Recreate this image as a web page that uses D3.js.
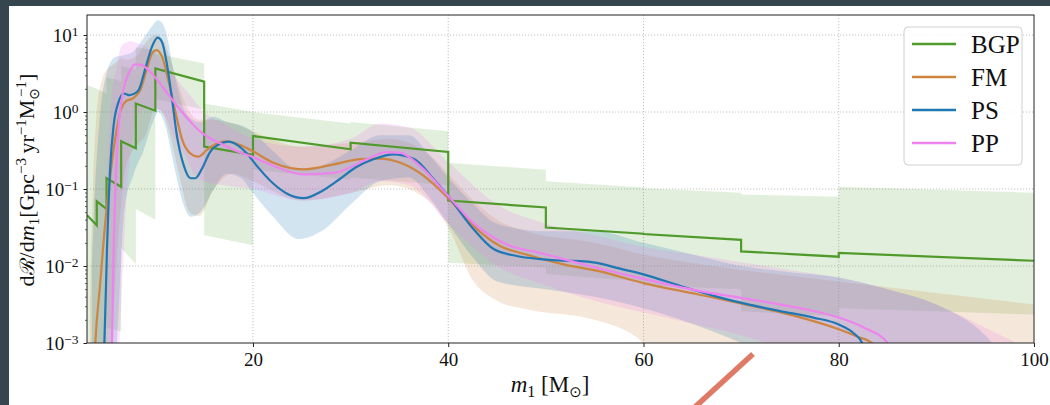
<!DOCTYPE html>
<html>
<head>
<meta charset="utf-8">
<script src="https://cdn.jsdelivr.net/npm/d3@7"></script>
<style>
  html, body { margin: 0; padding: 0; background: #36464f; }
  svg { display: block; }
  text { font-family: "Liberation Serif", "DejaVu Serif", serif; fill: #111; }
</style>
</head>
<body>
<svg id="chart" width="1050" height="405"></svg>
<script>
// ---- Primary mass distribution: median rate densities (Gpc^-3 yr^-1 Msun^-1) ----
const psMass = [4.6, 4.78, 5.05, 5.39, 5.73, 6.24, 6.76, 7.3, 7.8, 8.29, 8.98, 9.66, 10.24, 10.68, 11.2, 11.7, 12.2, 12.9, 13.6, 14.1, 14.8, 15.6, 16.7, 17.5, 18.4, 19.4, 20.4, 22.1, 23.5, 25.2, 27, 28.9, 30.5, 32.4, 34.4, 36.5, 38.5, 40, 42.6, 44.65, 47, 49.4, 51.8, 53.5, 55.2, 57.5, 60, 63.8, 67.2, 70.6, 74, 77.4, 80, 81.5, 82.4, 83];
const psRate = [0.0004, 0.001, 0.017, 0.204, 0.676, 1.36, 1.74, 1.66, 1.72, 1.93, 3.69, 7.08, 9.23, 8.13, 4.07, 1.51, 0.50, 0.204, 0.138, 0.138, 0.186, 0.302, 0.389, 0.412, 0.372, 0.288, 0.20, 0.117, 0.087, 0.076, 0.093, 0.135, 0.19, 0.245, 0.282, 0.245, 0.135, 0.081, 0.030, 0.0166, 0.0135, 0.0123, 0.0117, 0.0116, 0.011, 0.0093, 0.0078, 0.0055, 0.0041, 0.0032, 0.0026, 0.00214, 0.00174, 0.00135, 0.001, 0.0005];

const fmMass = [3.7, 3.85, 4.37, 4.88, 5.39, 5.9, 6.42, 6.93, 7.78, 8.46, 9.15, 9.66, 10.1, 10.68, 11.37, 12.05, 12.7, 13.6, 14.4, 15.3, 16.3, 17.3, 18.7, 20, 22.1, 25.2, 28.3, 31, 33, 35.1, 37.5, 40, 42.6, 45.3, 48, 51.8, 55.2, 60, 65.5, 70.3, 75, 80, 82, 83.4, 84];
const fmRate = [0.0004, 0.001, 0.0063, 0.038, 0.151, 0.457, 1.01, 1.36, 1.53, 1.93, 3.69, 5.75, 6.38, 5.25, 2.45, 1.01, 0.457, 0.288, 0.263, 0.324, 0.389, 0.417, 0.372, 0.309, 0.219, 0.18, 0.209, 0.245, 0.248, 0.219, 0.148, 0.076, 0.033, 0.0182, 0.0141, 0.0105, 0.0087, 0.006, 0.0043, 0.0032, 0.00234, 0.00151, 0.0012, 0.001, 0.0005];

const ppMass = [5.4, 5.56, 5.73, 6.0, 6.35, 6.76, 7.27, 7.95, 8.63, 9.49, 10.5, 11.5, 12.56, 13.6, 14.6, 15.6, 16.7, 18, 20, 22.1, 25.2, 28.3, 31.7, 33.7, 35.1, 37.1, 40, 42.6, 46, 49.4, 51.8, 55.2, 60, 65.5, 70.3, 75, 77.4, 80, 82.6, 85, 86];
const ppRate = [0.0004, 0.001, 0.017, 0.204, 0.912, 2.04, 3.16, 4.17, 4.07, 3.31, 2.34, 1.58, 1.06, 0.748, 0.556, 0.457, 0.389, 0.324, 0.26, 0.20, 0.155, 0.162, 0.245, 0.302, 0.295, 0.20, 0.081, 0.036, 0.019, 0.0148, 0.0123, 0.0095, 0.0068, 0.0048, 0.0038, 0.003, 0.0026, 0.00214, 0.00158, 0.001, 0.0005];

// ---- 90% credible bands ----
const psBandMass = [3.5, 3.7, 4.4, 5.05, 5.7, 6.1, 6.8, 7.8, 8.8, 9.7, 10.3, 11.0, 11.9, 12.9, 13.6, 14.6, 16, 17.3, 18.7, 20, 22, 24.7, 27, 30, 33, 36, 38, 40, 42.6, 45, 50, 55, 60, 65, 70, 75, 80, 85, 90, 95, 97];
const psHigh = [0.01, 0.0457, 1.1, 3.31, 5.0, 5.25, 5.5, 6.17, 9.12, 13.2, 15.5, 12.0, 3.31, 1.12, 0.832, 0.741, 0.871, 0.741, 0.676, 0.55, 0.316, 0.178, 0.2, 0.316, 0.5, 0.5, 0.282, 0.141, 0.063, 0.0355, 0.0282, 0.0282, 0.02, 0.0141, 0.01, 0.0083, 0.0071, 0.005, 0.00316, 0.00126, 0.00063];
const psLow = [3.2e-4, 3.2e-4, 3.2e-4, 3.2e-4, 3.2e-4, 1.26e-3, 0.05, 0.158, 0.316, 0.708, 1.0, 0.676, 0.204, 0.0617, 0.0437, 0.05, 0.1, 0.158, 0.141, 0.089, 0.0447, 0.0224, 0.0282, 0.063, 0.126, 0.141, 0.0794, 0.0355, 0.0126, 0.0063, 0.005, 0.00398, 0.00282, 0.00178, 0.001, 0.0005, 3.2e-4, 3.2e-4, 3.2e-4, 3.2e-4, 3.2e-4];

const fmBandMass = [3.3, 3.6, 4, 4.5, 5, 5.5, 6, 6.5, 7, 8, 9, 10, 10.7, 11.5, 12.5, 13.5, 14.5, 16, 18, 20, 25, 30, 34, 38, 40, 42.6, 45, 48, 55, 60, 62, 70, 80, 90, 100];
const fmHigh = [0.00316, 0.1, 1.0, 2.51, 3.55, 3.98, 4.47, 5.0, 4.79, 5.25, 7.94, 10, 8.91, 5.0, 2.0, 1.0, 0.794, 0.794, 0.708, 0.562, 0.355, 0.398, 0.447, 0.282, 0.158, 0.0708, 0.0398, 0.0282, 0.02, 0.0141, 0.0126, 0.0089, 0.0063, 0.00447, 0.00316];
const fmLow = [3.2e-4, 3.2e-4, 3.2e-4, 3.2e-4, 3.2e-4, 0.001, 0.01, 0.063, 0.2, 0.355, 0.5, 1.12, 1.0, 0.5, 0.141, 0.05, 0.0447, 0.1, 0.158, 0.126, 0.0708, 0.089, 0.112, 0.0708, 0.0316, 0.0063, 0.00355, 0.00275, 0.002, 0.001, 3.2e-4, 3.2e-4, 3.2e-4, 3.2e-4, 3.2e-4];

const ppBandMass = [5.0, 5.3, 5.6, 6.0, 6.5, 7, 7.5, 8, 9, 10, 11, 12, 13, 14, 15, 17, 20, 25, 30, 33, 36, 40, 45, 50, 55, 60, 65, 70, 75, 80, 85, 90, 95, 99];
const ppHigh = [0.1, 0.631, 2.0, 3.55, 7.08, 7.94, 8.3, 7.94, 7.08, 5.62, 3.98, 2.82, 2.0, 1.41, 1.0, 0.708, 0.447, 0.355, 0.447, 0.708, 0.631, 0.224, 0.063, 0.0355, 0.0251, 0.0178, 0.0141, 0.0112, 0.0089, 0.0071, 0.005, 0.00316, 0.00158, 0.00089];
const ppLow = [3.2e-4, 3.2e-4, 3.2e-4, 3.2e-4, 0.00316, 0.063, 0.316, 0.794, 1.12, 1.12, 0.891, 0.447, 0.282, 0.158, 0.126, 0.112, 0.1, 0.0708, 0.089, 0.126, 0.112, 0.0355, 0.01, 0.0056, 0.00355, 0.0025, 0.00178, 0.00126, 0.00079, 0.0005, 3.2e-4, 3.2e-4, 3.2e-4, 3.2e-4];

// ---- Binned Gaussian process: per-bin values at the left and right bin edges ----
const bgpEdges = [3, 4, 5, 6.5, 8, 10, 15, 20, 30, 40, 50, 60, 70, 80, 100];
const bgpStart = [0.0457, 0.0692, 0.138, 0.417, 1.29, 3.69, 0.355, 0.488, 0.40, 0.0708, 0.0316, 0.026, 0.0155, 0.0148];
const bgpEnd = [0.0339, 0.055, 0.107, 0.339, 1.04, 2.48, 0.277, 0.328, 0.303, 0.0575, 0.0263, 0.0219, 0.0132, 0.0117];
const bgpHighStart = [2.24, 2.0, 2.82, 3.98, 6.92, 5.75, 1.29, 1.0, 0.741, 0.219, 0.126, 0.102, 0.0851, 0.107];
const bgpHighEnd = [2.0, 1.74, 2.51, 3.55, 6.31, 4.27, 1.0, 0.708, 0.562, 0.178, 0.105, 0.0891, 0.0794, 0.0891];
const bgpLowStart = [3.2e-4, 3.2e-4, 1.58e-3, 0.017, 0.055, 1.48, 0.0251, 0.178, 0.141, 0.011, 0.0079, 0.0056, 0.00257, 0.00282];
const bgpLowEnd = [3.2e-4, 3.2e-4, 1.41e-3, 0.0107, 0.0398, 1.07, 0.0186, 0.132, 0.112, 0.00955, 0.0063, 0.005, 0.00224, 0.00234];

// ---- Axis ticks and legend ----
const xTicks = [20, 40, 60, 80, 100];
const yTicks = [1e-3, 1e-2, 1e-1, 1, 10];
const yTickExponents = ["\u22123", "\u22122", "\u22121", "0", "1"];
const legendLabels = ["BGP", "FM", "PS", "PP"];

const colors = { BGP: "#4f9a2b", FM: "#cd853f", PS: "#1f77b4", PP: "#ee82ee" };

// ---- Layout ----
const W = 1050, H = 405;
const L = 87, R = 1034, T = 15, B = 343;
const svg = d3.select("#chart");

svg.append("rect").attr("width", W).attr("height", H).attr("fill", "#36464f");
svg.append("rect").attr("x", 9).attr("y", 6).attr("width", W - 9).attr("height", H - 6).attr("fill", "#ffffff");

const x = d3.scaleLinear().domain([3, 100]).range([L, R]);
const y = d3.scaleLog().domain([1e-3, 18.2]).range([B, T]);

svg.append("defs").append("clipPath").attr("id", "plotClip")
  .append("rect").attr("x", L).attr("y", T).attr("width", R - L).attr("height", B - T);

// grid
const grid = svg.append("g");
grid.selectAll("line.gx").data(xTicks.filter(d => d < 100)).join("line")
  .attr("x1", d => x(d)).attr("x2", d => x(d)).attr("y1", T).attr("y2", B)
  .attr("stroke", "#b4b4b4").attr("stroke-width", 0.8).attr("stroke-dasharray", "1.2,1.8");
grid.selectAll("line.gy").data(yTicks.filter(d => d > 1e-3)).join("line")
  .attr("x1", L).attr("x2", R).attr("y1", d => y(d)).attr("y2", d => y(d))
  .attr("stroke", "#b4b4b4").attr("stroke-width", 0.8).attr("stroke-dasharray", "1.2,1.8");

const plot = svg.append("g").attr("clip-path", "url(#plotClip)");

// BGP step band and line
const bgpBand = [];
const bgpLine = [];
for (let i = 0; i < bgpStart.length; i++) {
  bgpBand.push({ m: bgpEdges[i], lo: bgpLowStart[i], hi: bgpHighStart[i] });
  bgpBand.push({ m: bgpEdges[i + 1], lo: bgpLowEnd[i], hi: bgpHighEnd[i] });
  bgpLine.push({ m: bgpEdges[i], v: bgpStart[i] });
  bgpLine.push({ m: bgpEdges[i + 1], v: bgpEnd[i] });
}
plot.append("path").datum(bgpBand)
  .attr("d", d3.area().x(d => x(d.m)).y0(d => y(d.lo)).y1(d => y(d.hi)))
  .attr("fill", colors.BGP).attr("fill-opacity", 0.16);

// smooth model bands
function bandData(ms, lo, hi) { return ms.map((m, i) => ({ m, lo: lo[i], hi: hi[i] })); }
const smoothArea = d3.area().curve(d3.curveMonotoneX).x(d => x(d.m)).y0(d => y(d.lo)).y1(d => y(d.hi));
[
  ["FM", bandData(fmBandMass, fmLow, fmHigh), 0.2],
  ["PS", bandData(psBandMass, psLow, psHigh), 0.2],
  ["PP", bandData(ppBandMass, ppLow, ppHigh), 0.22]
].forEach(([k, d, op]) => {
  plot.append("path").datum(d).attr("d", smoothArea).attr("fill", colors[k]).attr("fill-opacity", op);
});

// lines
plot.append("path").datum(bgpLine)
  .attr("d", d3.line().x(d => x(d.m)).y(d => y(d.v)))
  .attr("fill", "none").attr("stroke", colors.BGP).attr("stroke-width", 2.2);

const smoothLine = d3.line().curve(d3.curveMonotoneX).x(d => x(d.m)).y(d => y(d.v));
[
  ["FM", fmMass, fmRate],
  ["PS", psMass, psRate],
  ["PP", ppMass, ppRate]
].forEach(([k, ms, vs]) => {
  plot.append("path").datum(ms.map((m, i) => ({ m, v: vs[i] })))
    .attr("d", smoothLine).attr("fill", "none").attr("stroke", colors[k]).attr("stroke-width", 2.2);
});

// frame
svg.append("rect").attr("x", L).attr("y", T).attr("width", R - L).attr("height", B - T)
  .attr("fill", "none").attr("stroke", "#222").attr("stroke-width", 1);

// x axis
const gx = svg.append("g").attr("transform", `translate(0,${B})`)
  .call(d3.axisBottom(x).tickValues(xTicks).tickSize(4).tickPadding(6).tickFormat(d3.format("d")));
gx.select(".domain").remove();
gx.selectAll(".tick line").attr("stroke", "#222");
gx.selectAll(".tick text").attr("font-size", 19).attr("font-family", "Liberation Serif").attr("fill", "#111");

// y axis: minor ticks
const yMinor = [];
for (let e = -3; e <= 1; e++) for (let k = 2; k <= 9; k++) { const v = k * Math.pow(10, e); if (v <= 18.2) yMinor.push(v); }
const gym = svg.append("g").attr("transform", `translate(${L},0)`)
  .call(d3.axisLeft(y).tickValues(yMinor).tickSize(2).tickFormat(""));
gym.select(".domain").remove();
gym.selectAll(".tick line").attr("stroke", "#222").attr("stroke-width", 0.7);

// y axis: major ticks with power-of-ten labels
const gy = svg.append("g").attr("transform", `translate(${L},0)`)
  .call(d3.axisLeft(y).tickValues(yTicks).tickSize(3.5).tickPadding(5).tickFormat(""));
gy.select(".domain").remove();
gy.selectAll(".tick line").attr("stroke", "#222");
gy.selectAll(".tick text").each(function (d, i) {
  const t = d3.select(this).attr("font-size", 19).attr("font-family", "Liberation Serif").attr("fill", "#111")
    .attr("dy", "0.36em");
  t.append("tspan").text("10");
  t.append("tspan").attr("dy", "-0.48em").attr("font-size", 13.5).text(yTickExponents[i]);
});

// y label
const ylab = svg.append("text").attr("text-anchor", "middle").attr("font-size", 22)
  .attr("transform", "translate(34,180) rotate(-90)");
ylab.append("tspan").text("d");
ylab.append("tspan").attr("font-family", "DejaVu Serif").attr("font-size", 20).text("\u211B");
ylab.append("tspan").text("/d");
ylab.append("tspan").attr("font-style", "italic").text("m");
ylab.append("tspan").attr("dy", 5).attr("font-size", 15).text("1");
ylab.append("tspan").attr("dy", -5).text("[Gpc");
ylab.append("tspan").attr("dy", -8).attr("font-size", 15).text("\u22123");
ylab.append("tspan").attr("dy", 8).text("\u2009yr");
ylab.append("tspan").attr("dy", -8).attr("font-size", 15).text("\u22121");
ylab.append("tspan").attr("dy", 8).text("M");
ylab.append("tspan").attr("dy", 5).attr("font-size", 14).attr("font-family", "DejaVu Sans").text("\u2299");
ylab.append("tspan").attr("dy", -13).attr("dx", -9).attr("font-size", 15).text("\u22121");
ylab.append("tspan").attr("dy", 8).text("]");

// x label
const xlab = svg.append("text").attr("text-anchor", "middle").attr("font-size", 23)
  .attr("x", 550).attr("y", 392);
xlab.append("tspan").attr("font-style", "italic").text("m");
xlab.append("tspan").attr("dy", 5).attr("font-size", 16).text("1");
xlab.append("tspan").attr("dy", -5).text(" [M");
xlab.append("tspan").attr("dy", 5).attr("font-size", 15).attr("font-family", "DejaVu Sans").text("\u2299");
xlab.append("tspan").attr("dy", -5).text("]");

// legend
const lg = svg.append("g");
lg.append("rect").attr("x", 904).attr("y", 27).attr("width", 118).attr("height", 138)
  .attr("rx", 4).attr("fill", "#fff").attr("fill-opacity", 0.85).attr("stroke", "#d0d0d0").attr("stroke-width", 1);
const rowY = d3.scalePoint().domain(legendLabels).range([44, 143]);
legendLabels.forEach(k => {
  lg.append("line").attr("x1", 912).attr("x2", 956).attr("y1", rowY(k)).attr("y2", rowY(k))
    .attr("stroke", colors[k]).attr("stroke-width", 2.5);
  lg.append("text").attr("x", 971).attr("y", rowY(k) + 9).attr("font-size", 25).text(k);
});

// annotation stroke below the axis
svg.append("line").attr("x1", 695).attr("y1", 407).attr("x2", 753).attr("y2", 354)
  .attr("stroke", "#df7a66").attr("stroke-width", 5.5);
</script>
</body>
</html>
